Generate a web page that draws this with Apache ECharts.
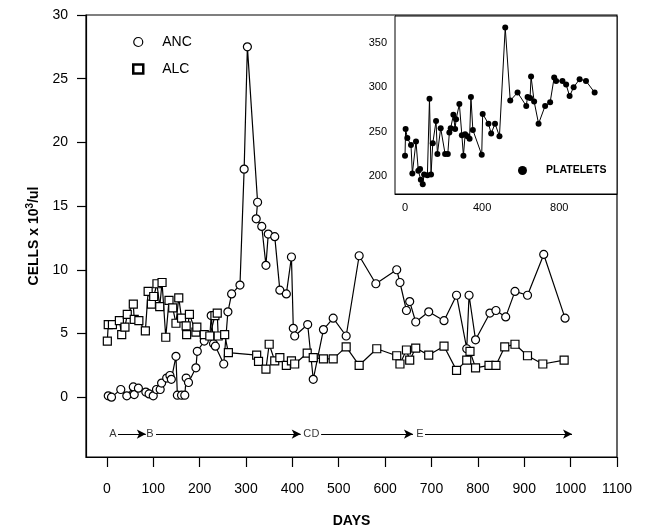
<!DOCTYPE html>
<html><head><meta charset="utf-8">
<script src="https://cdn.jsdelivr.net/npm/echarts@6/dist/echarts.min.js"></script>
<style>html,body{margin:0;padding:0;background:#fff}#c{width:649px;height:529px}</style>
</head><body><div id="c"></div>
<script>
// ANC (open circles)
const ancDays = [3,10,30,43,57,59,68,84,91,100,107,115,118,129,136,139,149,152,161,168,171,176,192,195,210,222,225,230,234,252,261,269,287,296,303,325,322,334,343,348,362,373,387,398,402,405,433,445,467,488,516,544,580,625,632,646,653,666,694,727,754,776,781,795,826,839,860,880,907,942,988];
const ancValues = [0.1,0.0,0.6,0.1,0.8,0.2,0.7,0.4,0.25,0.1,0.6,0.6,1.1,1.5,1.7,1.4,3.2,0.15,0.15,0.15,1.5,1.15,2.3,3.6,4.4,4.8,6.4,4.2,4.0,2.6,6.7,8.1,8.8,17.9,27.5,15.3,14.0,13.4,10.35,12.8,12.6,8.4,8.1,11.0,5.4,4.8,5.7,1.4,5.3,6.2,4.8,11.1,8.9,10.0,9.0,6.8,7.5,5.9,6.7,6.0,8.0,3.8,8.0,4.5,6.6,6.8,6.3,8.3,8.0,11.2,6.2];
// ALC (open squares)
const alcDays = [1,3,12,27,32,39,44,57,59,69,83,89,96,101,108,114,119,127,134,142,149,155,161,171,172,178,192,194,210,222,233,238,240,254,262,323,327,343,350,362,373,387,398,405,432,445,467,488,516,544,582,625,632,646,653,666,694,727,754,776,783,795,824,839,858,880,907,940,986];
const alcValues = [4.4,5.7,5.7,6.0,4.9,5.5,6.5,7.3,6.1,6.0,5.2,8.3,7.3,7.9,8.9,7.1,9.0,4.7,7.6,7.0,5.8,7.8,6.2,5.6,4.9,6.5,5.1,5.5,4.9,4.8,6.4,6.6,4.8,4.9,3.5,3.3,2.8,2.2,4.15,2.85,3.1,2.5,2.85,2.6,3.45,3.1,3.0,3.0,3.95,2.5,3.8,3.25,2.6,3.7,2.9,3.85,3.3,4.0,2.1,2.9,3.6,2.3,2.5,2.5,3.95,4.15,3.25,2.6,2.9];
// Platelets (inset)
const pltDays = [0,3,12,31,38,57,69,78,82,92,99,116,127,135,144,161,168,185,208,222,230,237,251,260,265,282,295,303,312,324,335,342,352,398,403,433,447,467,490,520,546,584,629,636,649,654,670,693,727,753,774,784,817,836,854,875,906,939,984];
const pltValues = [223,253,243,235,203,239,206,208,196,191,202,201,287,202,237,262,225,254,225,225,249,254,269,253,264,281,246,223,247,245,242,289,252,224,270,259,248,259,245,367,285,294,279,289,288,312,284,259,279,283,311,307,307,303,290,300,309,307,294];
// Treatment phase annotations
const phaseLabels = ['A','B','C','D','E'];
const phaseDays = [13,93,432,450,675];
const phaseLevel = -2.9;
const arrowSegments = [[24,84],[106,418],[462,660],[686,1003]];
// Tick labels
const mainXTicks = [0,100,200,300,400,500,600,700,800,900,1000,1100];
const mainYTicks = [0,5,10,15,20,25,30];
const insetXTicks = [0,400,800];
const insetYTicks = [200,250,300,350];

const font = 'Liberation Sans, Arial, sans-serif';
const chart = echarts.init(document.getElementById('c'), null, {renderer:'canvas'});
const zip = (a,b) => a.map((d,i)=>[d,b[i]]);
const plain = v => String(v);

chart.setOption({
  animation:false,
  backgroundColor:'#fff',
  textStyle:{fontFamily:font, color:'#000'},
  grid:[
    {left:86, right:32, top:15, bottom:72, show:true, borderColor:'#000', borderWidth:1.2, backgroundColor:'transparent', containLabel:false, outerBoundsMode:'none'},
    {left:395, right:32, top:16, bottom:335, show:true, borderColor:'#000', borderWidth:1, backgroundColor:'#fff', z:5, containLabel:false, outerBoundsMode:'none'}
  ],
  legend:[
    {orient:'vertical', left:127, top:30, itemGap:13, itemWidth:10, itemHeight:9,
     textStyle:{fontSize:14, fontFamily:font, color:'#000', padding:[0,0,0,14]},
     data:[{name:'ANC', icon:'circle', itemStyle:{color:'#fff', borderColor:'#000', borderWidth:1.2}},
           {name:'ALC', icon:'rect', itemStyle:{color:'#fff', borderColor:'#000', borderWidth:2.5}}]},
    {orient:'vertical', left:513, top:160, itemWidth:9, itemHeight:9, z:10,
     textStyle:{fontSize:10.5, fontWeight:'bold', fontFamily:font, color:'#000', padding:[0,0,0,14]},
     data:[{name:'PLATELETS', icon:'circle', itemStyle:{color:'#000'}}]}
  ],
  xAxis:[
    {type:'value', gridIndex:0, min:-45, max:1100,
     axisLine:{show:true, onZero:false, lineStyle:{color:'#000', width:1.2}},
     axisTick:{show:true, inside:false, length:10, customValues:mainXTicks, lineStyle:{color:'#000', width:1.2}},
     axisLabel:{customValues:mainXTicks, formatter:plain, fontSize:14, color:'#000', margin:25, fontFamily:font},
     splitLine:{show:false},
     name:'DAYS', nameLocation:'middle', nameGap:57, nameMoveOverlap:false, nameTextStyle:{fontSize:14, fontWeight:'bold', color:'#000', fontFamily:font}},
    {type:'value', gridIndex:1, min:-52, max:1100,
     axisLine:{show:true, onZero:false, lineStyle:{color:'#000', width:1}},
     axisTick:{show:true, inside:true, length:6, customValues:insetXTicks, lineStyle:{color:'#000'}},
     axisLabel:{customValues:insetXTicks, formatter:plain, fontSize:11, color:'#000', margin:8, fontFamily:font},
     splitLine:{show:false}}
  ],
  yAxis:[
    {type:'value', gridIndex:0, min:-4.7, max:30,
     axisLine:{show:true, onZero:false, lineStyle:{color:'#000', width:1.2}},
     axisTick:{show:true, inside:false, length:9, customValues:mainYTicks, lineStyle:{color:'#000', width:1.2}},
     axisLabel:{customValues:mainYTicks, formatter:plain, fontSize:14, color:'#000', margin:18, fontFamily:font},
     splitLine:{show:false},
     name:'{a|CELLS x 10}{s|3}{a|/ul}', nameLocation:'middle', nameGap:42, nameRotate:90, nameMoveOverlap:false,
     nameTextStyle:{rich:{a:{fontSize:14, fontWeight:'bold', color:'#000', fontFamily:font},
                          s:{fontSize:10, fontWeight:'bold', color:'#000', fontFamily:font, padding:[0,0,9,0]}}}},
    {type:'value', gridIndex:1, min:180, max:380,
     axisLine:{show:true, onZero:false, lineStyle:{color:'#000', width:1}},
     axisTick:{show:true, inside:true, length:4, customValues:insetYTicks, lineStyle:{color:'#000'}},
     axisLabel:{customValues:insetYTicks, formatter:plain, fontSize:11, color:'#000', margin:8, fontFamily:font},
     splitLine:{show:false}}
  ],
  series:[
    {name:'ANC', type:'line', xAxisIndex:0, yAxisIndex:0, data:zip(ancDays, ancValues),
     symbol:'circle', symbolSize:8, showAllSymbol:true,
     itemStyle:{color:'#fff', borderColor:'#000', borderWidth:1.2},
     lineStyle:{color:'#000', width:1.2}, z:3},
    {name:'ALC', type:'line', xAxisIndex:0, yAxisIndex:0, data:zip(alcDays, alcValues),
     symbol:'rect', symbolSize:8, showAllSymbol:true,
     itemStyle:{color:'#fff', borderColor:'#000', borderWidth:1.2},
     lineStyle:{color:'#000', width:1.2}, z:4},
    {name:'PLATELETS', type:'line', xAxisIndex:1, yAxisIndex:1, data:zip(pltDays, pltValues),
     symbol:'circle', symbolSize:6, showAllSymbol:true,
     itemStyle:{color:'#000'}, lineStyle:{color:'#000', width:1}, z:6},
    {name:'phases', type:'scatter', xAxisIndex:0, yAxisIndex:0, symbolSize:0,
     data:phaseLabels.map((l,i)=>({name:l, value:[phaseDays[i], phaseLevel]})),
     label:{show:true, position:'inside', formatter:p=>p.name, fontSize:11, color:'#000', fontFamily:font},
     markLine:{silent:true, symbol:['none','arrow'], symbolSize:[7,9],
       lineStyle:{color:'#000', width:1, type:'solid'}, label:{show:false},
       data:arrowSegments.map(s=>[{coord:[s[0], phaseLevel]},{coord:[s[1], phaseLevel]}])}}
  ]
});
</script></body></html>
